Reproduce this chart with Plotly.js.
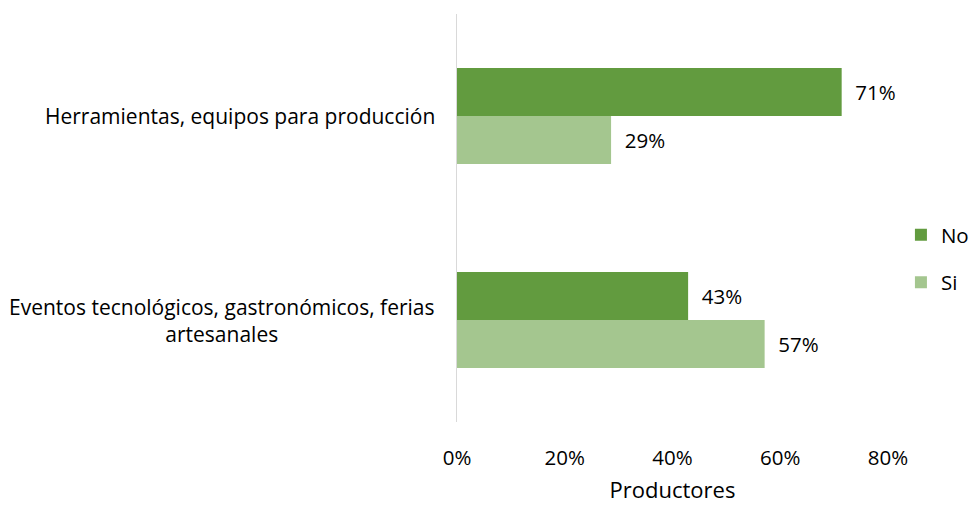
<!DOCTYPE html>
<html><head><meta charset="utf-8">
<script src="https://cdn.plot.ly/plotly-3.0.1.min.js"></script>
<style>body{margin:0;background:#fff}#c{width:971px;height:505px}</style>
</head><body><div id="c"></div>
<script>
const categories = ["Herramientas, equipos para producción", "Eventos tecnológicos, gastronómicos, ferias<br>artesanales"];
const seriesNames = ["No", "Si"];
const noValues = [0.714, 0.429];
const siValues = [0.286, 0.571];
const xTicks = [0, 0.2, 0.4, 0.6, 0.8];
const xTickLabels = ["0%", "20%", "40%", "60%", "80%"];
const colors = ["#629B3F", "#A4C68F"];
const FONT = "'Open Sans', Lato, sans-serif";
const FS = 20.5;
const pad = "\u00a0\u00a0";

const traces = [noValues, siValues].map((vals, i) => ({
  type: "bar", orientation: "h",
  name: seriesNames[i], legendgroup: seriesNames[i],
  y: categories, x: vals,
  marker: {color: colors[i]},
  text: vals.map(v => pad + Math.round(v * 100) + "%"),
  textposition: "outside", cliponaxis: false,
  textfont: {family: FONT, size: FS, color: "#000"},
  hoverinfo: "skip"
}));

const annotations = categories.map((c, i) => ({
  xref: "paper", yref: "y", x: 0, y: c, xanchor: "right", xshift: -20,
  text: c, align: "center", showarrow: false,
  font: {family: FONT, size: 21, color: "#000"}
}));

const layout = {
  width: 971, height: 505,
  margin: {l: 457, r: 83, t: 14, b: 83, autoexpand: false},
  paper_bgcolor: "#fff", plot_bgcolor: "#fff",
  barmode: "group", bargap: 0.53, bargroupgap: 0,
  showlegend: true,
  legend: {x: 1.03, y: 0.40, xanchor: "left", yanchor: "middle",
    traceorder: "grouped", tracegroupgap: 18,
    font: {family: FONT, size: FS, color: "#000"}},
  xaxis: {range: [0, 0.8], tickvals: xTicks, ticktext: xTickLabels,
    showgrid: false, zeroline: false, showline: false,
    ticks: "outside", ticklen: 17, tickcolor: "rgba(0,0,0,0)",
    tickfont: {family: FONT, size: FS, color: "#000"},
    title: {text: "Productores", font: {family: FONT, size: 22, color: "#000"}, standoff: 13}},
  yaxis: {type: "category", categoryorder: "array", categoryarray: categories,
    autorange: "reversed", showticklabels: false,
    showgrid: false, zeroline: false, showline: true, linecolor: "#D9D9D9", linewidth: 1.5},
  annotations: annotations
};

Plotly.newPlot("c", traces, layout, {displayModeBar: false, staticPlot: true});
</script></body></html>
